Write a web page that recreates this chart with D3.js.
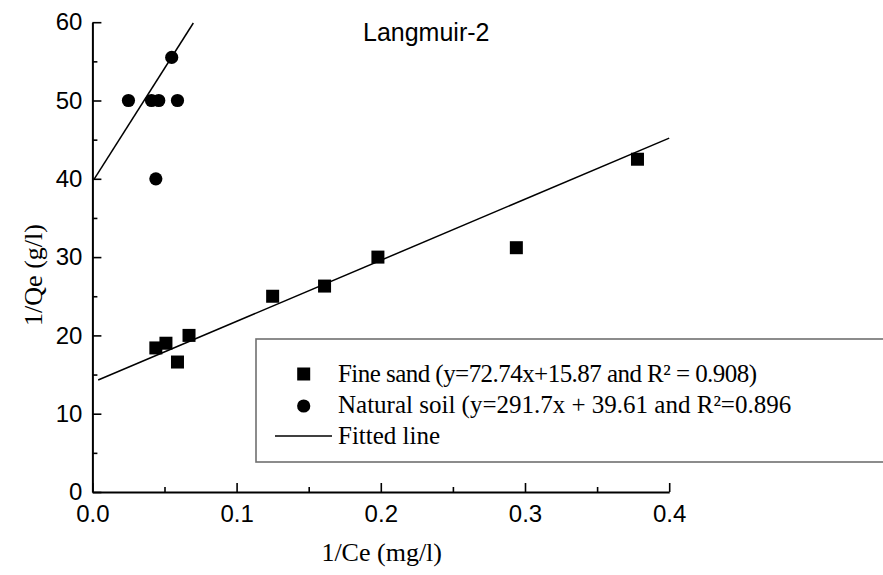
<!DOCTYPE html>
<html>
<head>
<meta charset="utf-8">
<script src="https://cdn.jsdelivr.net/npm/d3@7"></script>
<style>
  html, body { margin: 0; padding: 0; background: #fff; }
  svg { display: block; }
  .tick text { font-family: "Liberation Sans", Arial, sans-serif; font-size: 24px; fill: #000; }
</style>
</head>
<body>
<svg id="chart" width="883" height="575"></svg>
<script>
// Fine sand: 1/Ce vs 1/Qe
const fineSandX = [0.044, 0.051, 0.059, 0.067, 0.125, 0.161, 0.198, 0.294, 0.378];
const fineSandY = [18.4, 19.0, 16.6, 20.0, 25.0, 26.3, 30.0, 31.2, 42.5];

// Natural soil: 1/Ce vs 1/Qe
const naturalSoilX = [0.025, 0.041, 0.046, 0.059, 0.055, 0.044];
const naturalSoilY = [50, 50, 50, 50, 55.5, 40];

// Fitted line end points [x, y]
const fineSandFit = [[0.004, 14.3], [0.4, 45.2]];
const naturalSoilFit = [[0.001, 39.9], [0.07, 59.9]];

// Axis ticks
const xMajorTicks = [0, 0.1, 0.2, 0.3, 0.4];
const xMinorTicks = [0.05, 0.15, 0.25, 0.35];
const yMajorTicks = [0, 10, 20, 30, 40, 50, 60];
const yMinorTicks = [5, 15, 25, 35, 45, 55];

const legendLabels = [
  "Fine sand (y=72.74x+15.87 and R\u00B2 = 0.908)",
  "Natural soil (y=291.7x + 39.61 and R\u00B2=0.896",
  "Fitted line"
];

const svg = d3.select("#chart");

const x = d3.scaleLinear().domain([0, 0.4]).range([92.4, 669.2]);
const y = d3.scaleLinear().domain([0, 60]).range([492, 22.2]);

// Axes: ticks point into the plot
svg.append("g").attr("transform", `translate(0,${y(0)})`)
  .call(d3.axisBottom(x).tickValues(xMajorTicks).tickFormat(d3.format(".1f"))
    .tickSizeInner(-9).tickSizeOuter(0).tickPadding(12.5));
svg.append("g").attr("transform", `translate(0,${y(0)})`)
  .call(d3.axisBottom(x).tickValues(xMinorTicks).tickFormat("")
    .tickSizeInner(-5).tickSizeOuter(0))
  .select(".domain").remove();

svg.append("g").attr("transform", `translate(${x(0)},0)`)
  .call(d3.axisLeft(y).tickValues(yMajorTicks)
    .tickSizeInner(-9).tickSizeOuter(0).tickPadding(10));
svg.append("g").attr("transform", `translate(${x(0)},0)`)
  .call(d3.axisLeft(y).tickValues(yMinorTicks).tickFormat("")
    .tickSizeInner(-5).tickSizeOuter(0))
  .select(".domain").remove();

svg.selectAll(".domain").attr("stroke", "#000").attr("stroke-width", 2);
svg.selectAll(".tick line").attr("stroke", "#000").attr("stroke-width", 1.6);

// Fitted lines
const line = d3.line().x(d => x(d[0])).y(d => y(d[1]));
svg.append("g").selectAll("path")
  .data([fineSandFit, naturalSoilFit])
  .join("path")
  .attr("d", line)
  .attr("fill", "none")
  .attr("stroke", "#000")
  .attr("stroke-width", 1.5);

// Fine sand squares
const sq = 13;
svg.append("g").selectAll("rect")
  .data(fineSandX.map((v, i) => [v, fineSandY[i]]))
  .join("rect")
  .attr("x", d => x(d[0]) - sq / 2)
  .attr("y", d => y(d[1]) - sq / 2)
  .attr("width", sq).attr("height", sq)
  .attr("fill", "#000");

// Natural soil circles
svg.append("g").selectAll("circle")
  .data(naturalSoilX.map((v, i) => [v, naturalSoilY[i]]))
  .join("circle")
  .attr("cx", d => x(d[0]))
  .attr("cy", d => y(d[1]))
  .attr("r", 6.6)
  .attr("fill", "#000");

// Title
svg.append("text")
  .attr("x", 363).attr("y", 41)
  .attr("font-family", "'Liberation Sans', Arial, sans-serif")
  .attr("font-size", 25)
  .text("Langmuir-2");

// Axis titles
svg.append("text")
  .attr("x", 381.7).attr("y", 561)
  .attr("text-anchor", "middle")
  .attr("font-family", "'Liberation Serif', 'Times New Roman', serif")
  .attr("font-size", 26)
  .text("1/Ce (mg/l)");

svg.append("text")
  .attr("transform", "translate(42,275) rotate(-90)")
  .attr("text-anchor", "middle")
  .attr("font-family", "'Liberation Serif', 'Times New Roman', serif")
  .attr("font-size", 26)
  .text("1/Qe (g/l)");

// Legend
const legend = svg.append("g");
legend.append("rect")
  .attr("x", 256).attr("y", 339)
  .attr("width", 640).attr("height", 123)
  .attr("fill", "#fff")
  .attr("stroke", "#707070")
  .attr("stroke-width", 1.6);

legend.append("rect")
  .attr("x", 303.7 - sq / 2).attr("y", 374 - sq / 2)
  .attr("width", sq).attr("height", sq).attr("fill", "#000");
legend.append("circle")
  .attr("cx", 303.7).attr("cy", 406).attr("r", 6.6).attr("fill", "#000");
legend.append("line")
  .attr("x1", 275).attr("x2", 332).attr("y1", 436).attr("y2", 436)
  .attr("stroke", "#000").attr("stroke-width", 1.5);

const baselines = [382, 413, 444];
legend.selectAll("text.lg")
  .data(legendLabels)
  .join("text")
  .attr("class", "lg")
  .attr("x", 338)
  .attr("y", (d, i) => baselines[i])
  .attr("font-family", "'Liberation Serif', 'Times New Roman', serif")
  .attr("font-size", 25)
  .each(function(d, i) {
    if (i === 0) d3.select(this).attr("textLength", 419).attr("lengthAdjust", "spacing");
  })
  .text(d => d);
</script>
</body>
</html>
